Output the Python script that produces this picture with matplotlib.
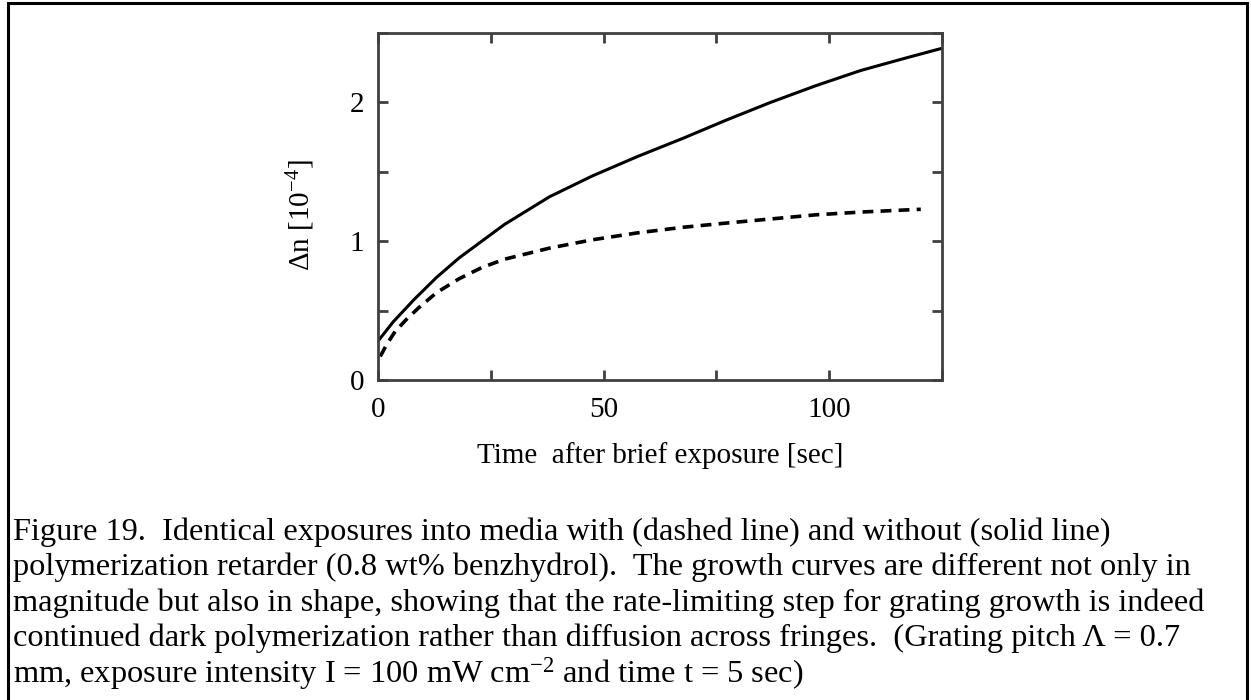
import numpy as np
import matplotlib
matplotlib.use("Agg")
import matplotlib.pyplot as plt
from matplotlib.patches import Rectangle
from matplotlib.ticker import MultipleLocator, FixedLocator

plt.rcParams['font.family'] = ['Liberation Serif', 'DejaVu Serif']
plt.rcParams['mathtext.fontset'] = 'custom'
plt.rcParams['mathtext.rm'] = 'Liberation Serif'
plt.rcParams['mathtext.it'] = 'Liberation Serif:italic'

# grating growth without retarder (solid) [sec, 1e-4]
t_solid = [0, 3.4, 8, 13, 18, 28, 38, 47.5, 57.5, 67.5, 77, 87, 97, 107, 117, 125]
dn_solid = [0.28, 0.42, 0.58, 0.74, 0.88, 1.12, 1.32, 1.47, 1.61, 1.74, 1.87, 2.00, 2.12, 2.23, 2.32, 2.39]

# with 0.8 wt% benzhydrol retarder (dashed)
t_dash = [0.5, 2, 3.8, 6.4, 9, 13, 18, 23, 28, 38, 47.5, 57.5, 67.5, 77, 87, 97, 107, 120.3]
dn_dash = [0.17, 0.26, 0.35, 0.44, 0.52, 0.63, 0.73, 0.81, 0.87, 0.95, 1.01, 1.06, 1.10, 1.13, 1.16, 1.19, 1.21, 1.23]

xticks_lab = [0, 50, 100]
yticks_lab = [0, 1, 2]

caption = [
    "Figure 19.  Identical exposures into media with (dashed line) and without (solid line)",
    "polymerization retarder (0.8 wt% benzhydrol).  The growth curves are different not only in",
    "magnitude but also in shape, showing that the rate-limiting step for grating growth is indeed",
    "continued dark polymerization rather than diffusion across fringes.  (Grating pitch \u039b = 0.7",
    "mm, exposure intensity I = 100 mW cm$^{-2}$ and time t = 5 sec)",
]

W, H = 1251, 700
fig = plt.figure(figsize=(W / 100, H / 100), dpi=100)

# border round the whole figure
fig.patches.append(Rectangle((8 / W, -0.02), (1247 - 8) / W, 1.02 - 3 / H,
                             transform=fig.transFigure, fill=False,
                             edgecolor='black', linewidth=2.2))

ax = fig.add_axes([378 / W, 1 - 380 / H, (942 - 378) / W, (380 - 33) / H])
ax.plot(t_solid, dn_solid, color='black', lw=2.2)
ax.plot(t_dash, dn_dash, color='black', lw=2.6, linestyle=(0, (3, 2)))

ax.set_xlim(0, 125)
ax.set_ylim(0, 2.5)
ax.xaxis.set_major_locator(FixedLocator(xticks_lab))
ax.xaxis.set_minor_locator(MultipleLocator(25))
ax.yaxis.set_major_locator(FixedLocator(yticks_lab))
ax.yaxis.set_minor_locator(MultipleLocator(0.5))
ax.tick_params(which='both', direction='in', top=True, right=True,
               length=7, width=2, color='#404040', labelsize=21, pad=10)
ax.tick_params(axis='x', which='major', pad=12)
for s in ax.spines.values():
    s.set_color('#404040')
    s.set_linewidth(2)

ax.set_xlabel('Time  after brief exposure [sec]', fontsize=21, labelpad=14)
ax.set_ylabel('\u0394n [10$^{-4}$]', fontsize=21)
ax.yaxis.set_label_coords(-0.108, 0.475)

y0 = 532
for i, line in enumerate(caption):
    fig.text(13 / W, 1 - (y0 + i * 35.5) / H, line, fontsize=23.3,
             ha='left', va='center')

fig.savefig('out.png', dpi=100)
